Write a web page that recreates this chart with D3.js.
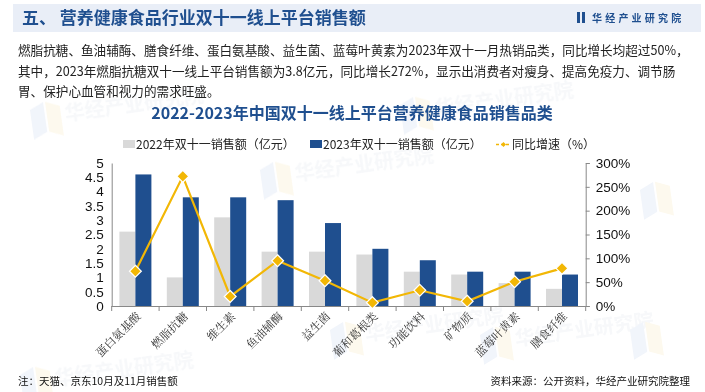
<!DOCTYPE html>
<html><head><meta charset="utf-8">
<script src="https://cdn.jsdelivr.net/npm/d3@7/dist/d3.min.js"></script>
<style>
body{margin:0;background:#fff;}
svg{display:block;font-family:"Noto Sans CJK SC","Noto Sans",sans-serif;}
</style></head><body>
<svg id="c" width="705" height="392"></svg>
<script>
const categories = ["蛋白氨基酸","燃脂抗糖","维生素","鱼油辅酶","益生菌","葡和葛根类","功能饮料","矿物质","蓝莓叶黄素","膳食纤维"];
const sales2022 = [2.6,1.0,3.1,1.9,1.9,1.8,1.2,1.1,0.8,0.6];
const sales2023 = [4.6,3.8,3.8,3.7,2.9,2.0,1.6,1.2,1.2,1.1];
const growth = [73,272,20,95,53,7,33,10,51,79];
const leftTicks = [0,0.5,1,1.5,2,2.5,3,3.5,4,4.5,5];
const rightTicks = [0,50,100,150,200,250,300];
const seriesNames = ["2022年双十一销售额（亿元）","2023年双十一销售额（亿元）","同比增速（%）"];
const header = "五、 营养健康食品行业双十一线上平台销售额";
const brand = "华经产业研究院";
const paragraph = [
 "燃脂抗糖、鱼油辅酶、膳食纤维、蛋白氨基酸、益生菌、蓝莓叶黄素为2023年双十一月热销品类，同比增长均超过50%，",
 "其中，2023年燃脂抗糖双十一线上平台销售额为3.8亿元，同比增长272%，显示出消费者对瘦身、提高免疫力、调节肠",
 "胃、保护心血管和视力的需求旺盛。"
];
const chartTitle = "2022-2023年中国双十一线上平台营养健康食品销售品类";
const note = "注：天猫、京东10月及11月销售额";
const source = "资料来源：公开资料，华经产业研究院整理";

const C_DARK = "#1f4f8f", C_GRAY = "#d9d9d9", C_GOLD = "#f2b705", C_TXT = "#222";
const svg = d3.select("#c");

// watermarks
const wm = svg.append("g").attr("opacity",0.5);
[[30,110],[400,105],[260,170],[480,335],[20,375],[330,330]].forEach(([x,y])=>{
  const g = wm.append("g").attr("transform",`translate(${x},${y}) rotate(-8)`);
  g.append("path").attr("d","M0,0 L14,-6 L14,24 L0,30 Z").attr("fill","#e3eaf6");
  g.append("path").attr("d","M16,-6 L30,0 L30,30 L16,24 Z").attr("fill","#fbf3dc");
  g.append("text").attr("x",34).attr("y",16).attr("font-size",20).attr("font-weight","bold").attr("fill","#eef1f5").text(brand);
});
[[640,190],[630,330]].forEach(([x,y])=>{
  const g = wm.append("g").attr("transform",`translate(${x},${y}) rotate(-8)`);
  g.append("path").attr("d","M0,0 L14,-6 L14,24 L0,30 Z").attr("fill","#e3eaf6");
  g.append("path").attr("d","M16,-6 L30,0 L30,30 L16,24 Z").attr("fill","#fbf3dc");
});

// header bar
svg.append("rect").attr("x",13).attr("y",4).attr("width",688).attr("height",28).attr("fill","#e9eef7");
svg.append("text").attr("x",22).attr("y",24).attr("font-size",17).attr("font-weight","bold").attr("fill",C_DARK).text(header);
svg.append("rect").attr("x",577).attr("y",12).attr("width",3).attr("height",11).attr("fill",C_DARK);
svg.append("rect").attr("x",582).attr("y",12).attr("width",3).attr("height",11).attr("fill",C_DARK);
svg.append("text").attr("x",592).attr("y",21.5).attr("font-size",10).attr("font-weight","bold").attr("letter-spacing",3.2).attr("fill",C_DARK).text(brand);

// paragraph
paragraph.forEach((t,i)=>{
  svg.append("text").attr("x",18).attr("y",55+i*20.5).attr("font-size",12.6).attr("fill",C_TXT).text(t);
});

// chart title
svg.append("text").attr("x",352).attr("y",119).attr("text-anchor","middle").attr("font-size",16).attr("font-weight","bold").attr("fill",C_DARK).text(chartTitle);

// scales
const x0 = 111.7, x1 = 585.7, yTop = 163, yBot = 306;
const x = d3.scaleBand().domain(categories).range([x0,x1]).paddingInner(0).paddingOuter(0);
const yL = d3.scaleLinear().domain([0,5]).range([yBot,yTop]);
const yR = d3.scaleLinear().domain([0,300]).range([yBot,yTop]);
const bw = 16;

// bars
const g = svg.append("g");
g.selectAll(".b22").data(categories).join("rect")
  .attr("x",d=>x(d)+x.bandwidth()/2-bw).attr("width",bw)
  .attr("y",(d,i)=>yL(sales2022[i])).attr("height",(d,i)=>yBot-yL(sales2022[i])).attr("fill",C_GRAY);
g.selectAll(".b23").data(categories).join("rect")
  .attr("x",d=>x(d)+x.bandwidth()/2).attr("width",bw)
  .attr("y",(d,i)=>yL(sales2023[i])).attr("height",(d,i)=>yBot-yL(sales2023[i])).attr("fill",C_DARK);

// axes
const axL = svg.append("g").attr("transform",`translate(${x0},0)`)
  .call(d3.axisLeft(yL).tickValues(leftTicks).tickSize(0).tickPadding(8).tickFormat(d3.format("~g")));
const axR = svg.append("g").attr("transform",`translate(${x1},0)`)
  .call(d3.axisRight(yR).tickValues(rightTicks).tickSize(4).tickPadding(6).tickFormat(d=>d+"%"));
[axL,axR].forEach(a=>{
  a.select(".domain").attr("stroke","#888");
  a.selectAll(".tick line").attr("stroke","#888");
  a.selectAll("text").attr("font-family","Liberation Sans, Arial, sans-serif").attr("font-size",13.5).attr("fill","#111");
});
// bottom axis line with boundary ticks
const bounds = categories.map(d=>x(d)).concat([x1]);
svg.append("line").attr("x1",x0).attr("x2",x1).attr("y1",yBot+0.5).attr("y2",yBot+0.5).attr("stroke","#888");
svg.selectAll(".bt").data(bounds).join("line").attr("x1",d=>d).attr("x2",d=>d).attr("y1",yBot).attr("y2",yBot+5).attr("stroke","#888");

// category labels
svg.selectAll(".cl").data(categories).join("text")
  .attr("transform",d=>`translate(${x(d)+x.bandwidth()/2+6},${yBot+11}) rotate(-45)`)
  .attr("text-anchor","end").attr("font-size",11.5).attr("fill","#333")
  .attr("font-family","Noto Serif CJK SC, Noto Sans CJK SC, serif").text(d=>d);

// line
const line = d3.line().x((d,i)=>x(categories[i])+x.bandwidth()/2).y(d=>yR(d));
svg.append("path").datum(growth).attr("d",line).attr("fill","none").attr("stroke",C_GOLD).attr("stroke-width",2.2);
svg.selectAll(".mk").data(growth).join("path")
  .attr("transform",(d,i)=>`translate(${x(categories[i])+x.bandwidth()/2},${yR(d)})`)
  .attr("d",d3.symbol(d3.symbolDiamond2,90)).attr("fill",C_GOLD).attr("stroke","#fff").attr("stroke-width",1.2);

// legend
const lg = svg.append("g").attr("font-size",12).attr("fill","#222");
lg.append("rect").attr("x",123).attr("y",140).attr("width",12).attr("height",8).attr("fill",C_GRAY);
lg.append("text").attr("x",136).attr("y",149).text(seriesNames[0]);
lg.append("rect").attr("x",310).attr("y",140).attr("width",12).attr("height",8).attr("fill",C_DARK);
lg.append("text").attr("x",323).attr("y",149).text(seriesNames[1]);
lg.append("line").attr("x1",496).attr("x2",511).attr("y1",144.5).attr("y2",144.5).attr("stroke",C_GOLD).attr("stroke-width",1.5).attr("stroke-dasharray","3,2");
lg.append("path").attr("transform","translate(503.5,144.5)").attr("d",d3.symbol(d3.symbolDiamond2,16)).attr("fill",C_GOLD);
lg.append("text").attr("x",512).attr("y",149).text(seriesNames[2]);

// footer
svg.append("text").attr("x",18).attr("y",385).attr("font-size",10.5).attr("fill","#111").text(note);
svg.append("text").attr("x",690).attr("y",385).attr("text-anchor","end").attr("font-size",10.5).attr("fill","#111").text(source);
</script>
</body></html>
